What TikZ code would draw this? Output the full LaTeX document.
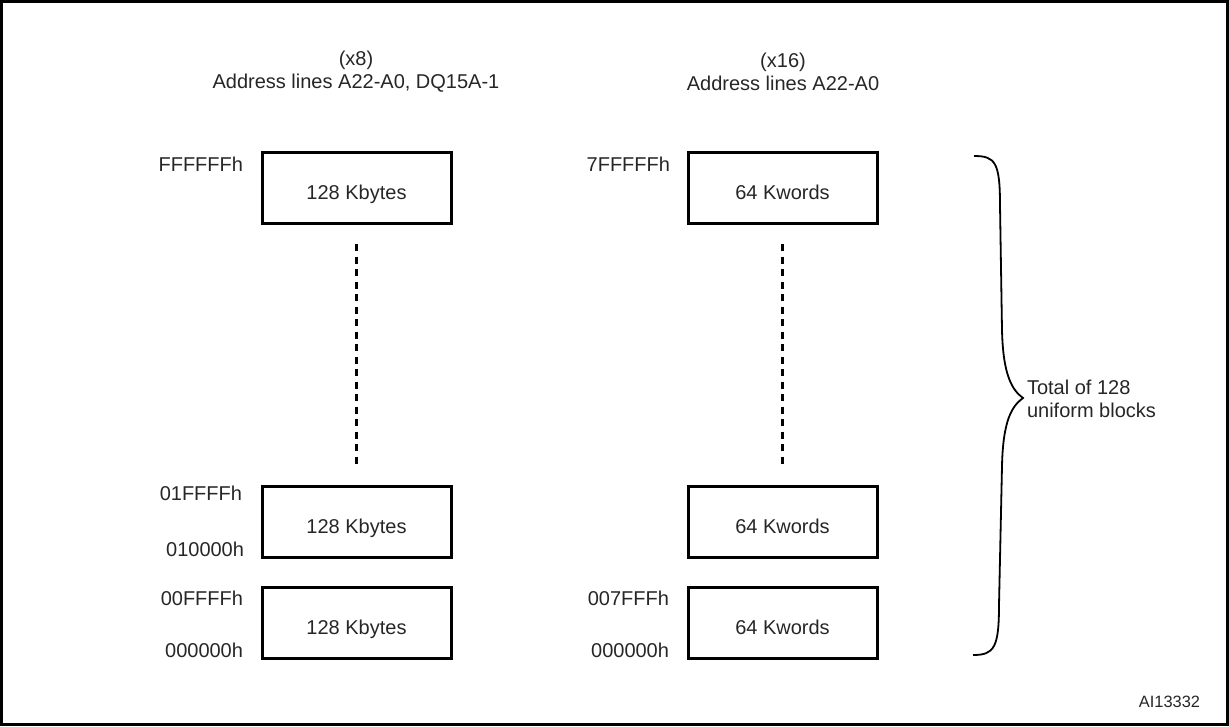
\documentclass[tikz,border=0pt]{standalone}
\usepackage{fontspec}
\setmainfont{Liberation Sans}
\begin{document}
\begin{tikzpicture}[x=1pt,y=-1pt,
  every node/.style={inner sep=0pt, outer sep=0pt, text=black!85},
  blk/.style={draw=black, line width=3pt, minimum width=189pt, minimum height=71pt, anchor=north west},
  lbl/.style={font=\fontsize{20}{23}\selectfont},
  inbox/.style={lbl, anchor=base},
  addr/.style={lbl, anchor=east},
  gap/.style={draw=black, line width=2.4pt, dash pattern=on 7pt off 5.5pt}]
\useasboundingbox (0,0) rectangle (1229,726);
\draw[line width=3pt] (1.5,1.5) rectangle (1227.5,724.5);
% titles
\node[lbl, align=center] (t8) at (356,72) {(x8)\\Address lines A22-A0, DQ15A-1};
\node[lbl, align=center] (t16) at (783,72) {(x16)\\Address lines A22-A0};
% left column
\node[blk] (l1) at (262,152) {};
\node[blk] (l2) at (262,486) {};
\node[blk] (l3) at (262,587) {};
\node[inbox] at ([yshift=-11.5pt]l1.center) {128 Kbytes};
\node[inbox] at ([yshift=-11.5pt]l2.center) {128 Kbytes};
\node[inbox] at ([yshift=-11.5pt]l3.center) {128 Kbytes};
\node[addr] (a1) at (243,164) {FFFFFFh};
\node[addr] (a2) at (242,493) {01FFFFh};
\node[addr] (a3) at (244,549) {010000h};
\node[addr] (a4) at (243,598) {00FFFFh};
\node[addr] (a5) at (243,650) {000000h};
\draw[gap] ([yshift=-21pt]l1.south) -- ([yshift=18pt]l2.north);
% right column
\node[blk] (r1) at (688,152) {};
\node[blk] (r2) at (688,486) {};
\node[blk] (r3) at (688,587) {};
\node[inbox] at ([yshift=-11.5pt]r1.center) {64 Kwords};
\node[inbox] at ([yshift=-11.5pt]r2.center) {64 Kwords};
\node[inbox] at ([yshift=-11.5pt]r3.center) {64 Kwords};
\node[addr] (b1) at (670,164) {7FFFFFh};
\node[addr] (b4) at (669,598) {007FFFh};
\node[addr] (b5) at (669,650) {000000h};
\draw[gap] ([yshift=-21pt]r1.south) -- ([yshift=18pt]r2.north);
% brace
\coordinate (bt) at (974,156);
\coordinate (tip) at (1023,398);
\coordinate (bb) at (973,655);
\draw[line width=1.8pt] (bt) .. controls (995,156) and (1000,162) .. (1000,205)
  -- (1002,330) .. controls (1003,375) and (1012,390) .. (tip)
  .. controls (1012,406) and (1003,420) .. (1002,466)
  -- (999,605) .. controls (999,648) and (994,655) .. (bb);
\node[lbl, align=left, anchor=west] (tot) at (1027,399) {Total of 128\\uniform blocks};
\node[font=\fontsize{16.4}{19}\selectfont, anchor=east] (ai) at (1200,702) {AI13332};
\end{tikzpicture}
\end{document}
